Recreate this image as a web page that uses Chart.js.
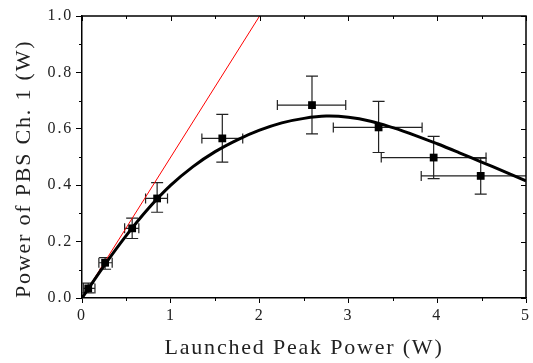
<!DOCTYPE html>
<html>
<head>
<meta charset="utf-8">
<script src="https://cdn.jsdelivr.net/npm/chart.js@4"></script>
<style>
  body { margin: 0; background: #fff; }
  #wrap { width: 533px; height: 363px; }
</style>
</head>
<body>
<div id="wrap"><canvas id="line-chart" width="533" height="363"></canvas></div>
<script>
// measured points with error bars
var ptX  = [0.07, 0.26, 0.565, 0.846, 1.58, 2.59, 3.34, 3.96, 4.49];
var ptY  = [0.034, 0.125, 0.247, 0.353, 0.566, 0.684, 0.605, 0.498, 0.433];
var xLo  = [0.015, 0.19, 0.48, 0.716, 1.35, 2.20, 2.83, 3.37, 3.82];
var xHi  = [0.146, 0.34, 0.64, 0.963, 1.81, 2.97, 3.83, 4.55, 5.10];
var yLo  = [0.018, 0.102, 0.211, 0.304, 0.482, 0.582, 0.516, 0.423, 0.368];
var yHi  = [0.053, 0.143, 0.283, 0.409, 0.651, 0.787, 0.697, 0.573, 0.496];

// fitted curve
var fitX = [0, 0.25, 0.5, 0.75, 1.0, 1.25, 1.5, 1.75, 2.0, 2.25, 2.5, 2.75, 3.0, 3.25, 3.5, 3.75, 4.0, 4.25, 4.5, 4.75, 5.0];
var fitY = [0, 0.115, 0.222, 0.318, 0.400, 0.466, 0.519, 0.561, 0.595, 0.621, 0.637, 0.645, 0.641, 0.627, 0.604, 0.577, 0.547, 0.515, 0.482, 0.449, 0.415];

// linear (red) line
var linX = [0.05, 2.0];
var linY = [0.025, 1.0];

var xTicks = [0, 1, 2, 3, 4, 5];
var yTicks = [0.0, 0.2, 0.4, 0.6, 0.8, 1.0];

function pairs(xs, ys) {
  var out = [];
  for (var i in xs) out.push({x: xs[i], y: ys[i]});
  return out;
}

// error bars, minor ticks and the mirrored top/right ticks
var extras = {
  id: 'extras',
  beforeDraw: function(chart) {
    chart.ctx.letterSpacing = '1.8px';
  },
  beforeDatasetsDraw: function(chart) {
    var ctx = chart.ctx, xs = chart.scales.x, ys = chart.scales.y, a = chart.chartArea;
    ctx.save();
    ctx.beginPath();
    ctx.rect(a.left, a.top, a.right - a.left, a.bottom - a.top);
    ctx.clip();
    ctx.strokeStyle = '#222';
    ctx.lineWidth = 1.2;
    for (var i in ptX) {
      var px = xs.getPixelForValue(ptX[i]), py = ys.getPixelForValue(ptY[i]);
      var x1 = xs.getPixelForValue(xLo[i]), x2 = xs.getPixelForValue(xHi[i]);
      var y1 = ys.getPixelForValue(yLo[i]), y2 = ys.getPixelForValue(yHi[i]);
      ctx.beginPath();
      ctx.moveTo(x1, py); ctx.lineTo(x2, py);
      ctx.moveTo(x1, py - 5); ctx.lineTo(x1, py + 5);
      ctx.moveTo(x2, py - 5); ctx.lineTo(x2, py + 5);
      ctx.moveTo(px, y1); ctx.lineTo(px, y2);
      ctx.moveTo(px - 6, y1); ctx.lineTo(px + 6, y1);
      ctx.moveTo(px - 6, y2); ctx.lineTo(px + 6, y2);
      ctx.stroke();
    }
    ctx.restore();
  },
  afterDraw: function(chart) {
    var ctx = chart.ctx, xs = chart.scales.x, ys = chart.scales.y, a = chart.chartArea;
    ctx.save();
    ctx.strokeStyle = '#000';
    ctx.lineWidth = 1.5;
    ctx.beginPath();
    ctx.moveTo(a.left, a.top); ctx.lineTo(a.right, a.top); ctx.lineTo(a.right, a.bottom);
    ctx.stroke();
    ctx.lineWidth = 1;
    ctx.beginPath();
    var v, p;
    for (v = 0; v <= 5.001; v += 0.5) {
      p = Math.round(xs.getPixelForValue(v)) + 0.5;
      var major = Math.abs(v - Math.round(v)) < 0.01;
      if (!major) { ctx.moveTo(p, a.bottom); ctx.lineTo(p, a.bottom + 3); }
      ctx.moveTo(p, a.top); ctx.lineTo(p, a.top + (major ? 5 : 3));
    }
    for (v = 0; v <= 1.0001; v += 0.1) {
      p = Math.round(ys.getPixelForValue(v)) + 0.5;
      var maj = Math.round(v * 10) % 2 == 0;
      if (!maj) { ctx.moveTo(a.left, p); ctx.lineTo(a.left - 3, p); }
      ctx.moveTo(a.right, p); ctx.lineTo(a.right - (maj ? 5 : 3), p);
    }
    ctx.stroke();
    ctx.restore();
  }
};

new Chart(document.getElementById("line-chart"), {
  type: 'scatter',
  data: {
    datasets: [{
        data: pairs(linX, linY),
        showLine: true,
        borderColor: "#ff0000",
        borderWidth: 1,
        pointRadius: 0,
        order: 3
      }, {
        data: pairs(fitX, fitY),
        showLine: true,
        borderColor: "#000",
        borderWidth: 3,
        pointRadius: 0,
        tension: 0.4,
        order: 2
      }, {
        data: pairs(ptX, ptY),
        pointStyle: 'rect',
        pointRadius: 5.5,
        backgroundColor: "#000",
        borderColor: "#000",
        borderWidth: 0,
        order: 1
      }
    ]
  },
  options: {
    responsive: false,
    animation: false,
    layout: { padding: { top: 16, right: 6, left: 0, bottom: 0 } },
    plugins: { legend: { display: false }, tooltip: { enabled: false } },
    scales: {
      x: {
        type: 'linear', min: 0, max: 5,
        afterBuildTicks: function(s) { s.ticks = xTicks.map(function(v) { return {value: v}; }); },
        afterFit: function(s) { s.height = 65; },
        grid: { drawOnChartArea: false, tickLength: 5, color: '#000' },
        border: { color: '#000', width: 1.5 },
        ticks: { color: '#222', padding: 3, maxRotation: 0,
                 font: { family: 'Liberation Serif', size: 16 },
                 callback: function(v) { return String(v); } },
        title: { display: true, text: 'Launched Peak Power (W)', color: '#222',
                 font: { family: 'Liberation Serif', size: 22, lineHeight: 1.2 },
                 padding: { top: 0, bottom: 2 } }
      },
      y: {
        type: 'linear', min: 0, max: 1,
        afterBuildTicks: function(s) { s.ticks = yTicks.map(function(v) { return {value: v}; }); },
        afterFit: function(s) { s.width = 82; },
        grid: { drawOnChartArea: false, tickLength: 6, color: '#000' },
        border: { color: '#000', width: 1.5 },
        ticks: { color: '#222', padding: 3,
                 font: { family: 'Liberation Serif', size: 16 },
                 callback: function(v) { return v.toFixed(1); } },
        title: { display: true, text: 'Power of PBS Ch. 1 (W)', color: '#222', align: 'start',
                 font: { family: 'Liberation Serif', size: 22, lineHeight: 1.2 },
                 padding: { top: 11, bottom: 0 } }
      }
    }
  },
  plugins: [extras]
});
</script>
</body>
</html>
